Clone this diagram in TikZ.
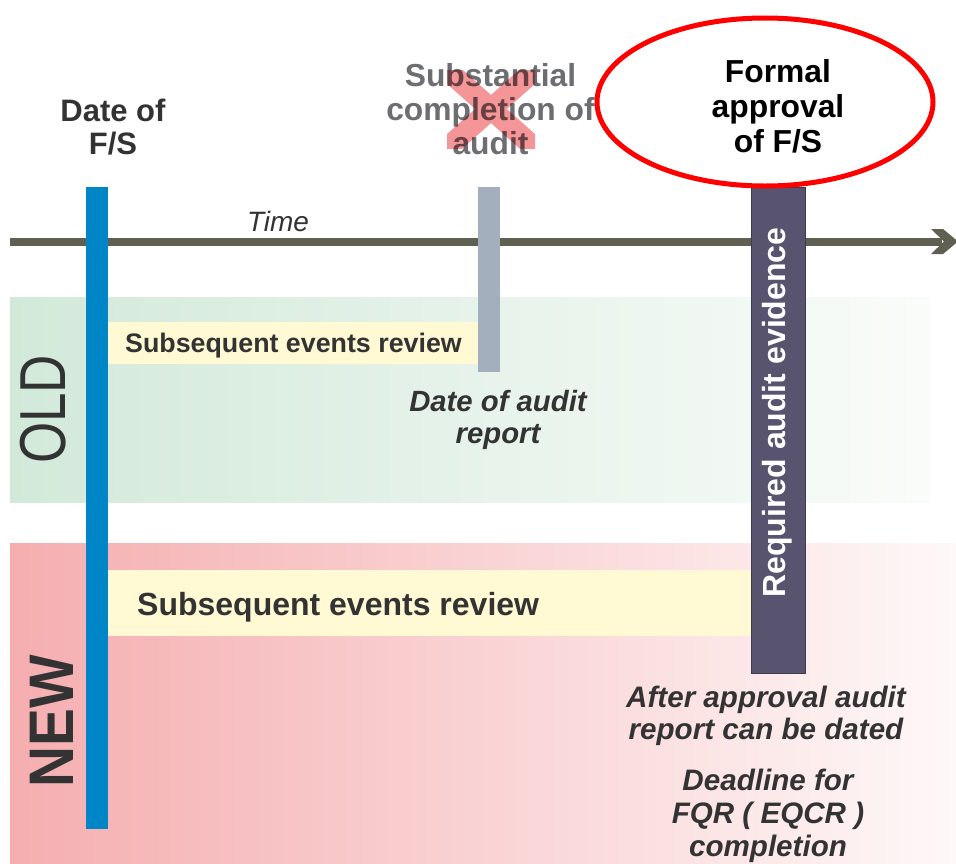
\documentclass[tikz,border=0pt]{standalone}
\usepackage{fontspec}
\setmainfont{Liberation Sans}
\definecolor{barblue}{RGB}{0,134,198}
\definecolor{bargray}{RGB}{163,175,189}
\definecolor{barpurple}{RGB}{88,83,111}
\definecolor{barpurpleedge}{RGB}{62,58,80}
\definecolor{timeline}{RGB}{95,95,82}
\definecolor{greenband}{RGB}{210,233,218}
\definecolor{greenend}{RGB}{250,252,250}
\definecolor{pinkband}{RGB}{245,174,176}
\definecolor{pinkend}{RGB}{254,248,248}
\definecolor{yellowbar}{RGB}{255,249,212}
\definecolor{darktext}{RGB}{51,51,51}
\definecolor{graytext}{RGB}{109,110,113}
\definecolor{crosspink}{RGB}{244,150,152}
\tikzset{
  lbl/.style={inner sep=0pt, align=center, text=darktext},
  boldlbl/.style={lbl, font=\bfseries},
  itlbl/.style={lbl, font=\bfseries\itshape},
}
\begin{document}
\begin{tikzpicture}[x=1pt,y=-1pt]
\useasboundingbox (0,0) rectangle (956,863);
\fill[white] (0,0) rectangle (956,863);
% bands
\shade[left color=greenband, right color=greenend] (10,297) rectangle (930,502);
\shade[left color=pinkband, right color=pinkend] (10,543) rectangle (956,863);
% time line
\coordinate (tstart) at (10,241.5);
\coordinate (tend) at (942,241.5);
\draw[timeline, line width=8pt] (tstart) -- (tend);
\fill[timeline] (931,229) -- (943,229) -- (958,241.5) -- (943,254) -- (931,254) -- (944,241.5) -- cycle;
\node[lbl, font=\itshape\fontsize{28}{33}\selectfont] (time) at (278,221) {Time};
% yellow bars
\fill[yellowbar] (108,322) rectangle (478,364);
\fill[yellowbar] (108,570) rectangle (751,635.5);
\node[boldlbl, font=\bfseries\fontsize{26.8}{32}\selectfont] (serold) at (293.5,346) {Subsequent events review};
\node[boldlbl, anchor=west, font=\bfseries\fontsize{32}{38}\selectfont] (sernew) at (137,607) {Subsequent events review};
% vertical bars
\fill[barblue] (86,187) rectangle (108,829);
\fill[bargray] (478,187) rectangle (500,372);
\filldraw[fill=barpurple, draw=barpurpleedge, line width=1pt] (751,187) rectangle (805,673);
\node[lbl, text=white, rotate=90, font=\bfseries\fontsize{32}{38}\selectfont] (req) at (777,412.5) {Required audit evidence};
% OLD / NEW
\node[lbl, rotate=90, xscale=0.815, font=\fontsize{65}{72}\selectfont] (old) at (43.5,409.5) {OLD};
\node[lbl, rotate=90, xscale=0.9, font=\bfseries\fontsize{63}{70}\selectfont] (new) at (51.5,721) {NEW};
% headings
\node[boldlbl, font=\bfseries\fontsize{31}{33.5}\selectfont] (datefs) at (113,127) {Date of\\F/S};
\node[boldlbl, text=graytext, font=\bfseries\fontsize{31.8}{34}\selectfont] (subst) at (490.5,109) {Substantial\\completion of\\audit};
\begin{scope}
\clip (447,70) rectangle (535,148);
\draw[crosspink, line width=21pt, blend mode=multiply] (437,61) -- (545,157) (545,61) -- (437,157);
\end{scope}
\draw[red, line width=5pt] (765,102) ellipse [x radius=168pt, y radius=84pt];
\node[boldlbl, text=black, font=\bfseries\fontsize{31.8}{35}\selectfont] (formal) at (778,106) {Formal\\approval\\of F/S};
% notes
\node[itlbl, font=\bfseries\itshape\fontsize{29.3}{32}\selectfont] (dar) at (498,420) {Date of audit\\report};
\node[itlbl, font=\bfseries\itshape\fontsize{29.6}{32.5}\selectfont] (after) at (766,716) {After approval audit\\report can be dated};
\node[itlbl, font=\bfseries\itshape\fontsize{29.6}{33}\selectfont] (deadline) at (768,815.5) {Deadline for\\FQR ( EQCR )\\completion};
\end{tikzpicture}
\end{document}
